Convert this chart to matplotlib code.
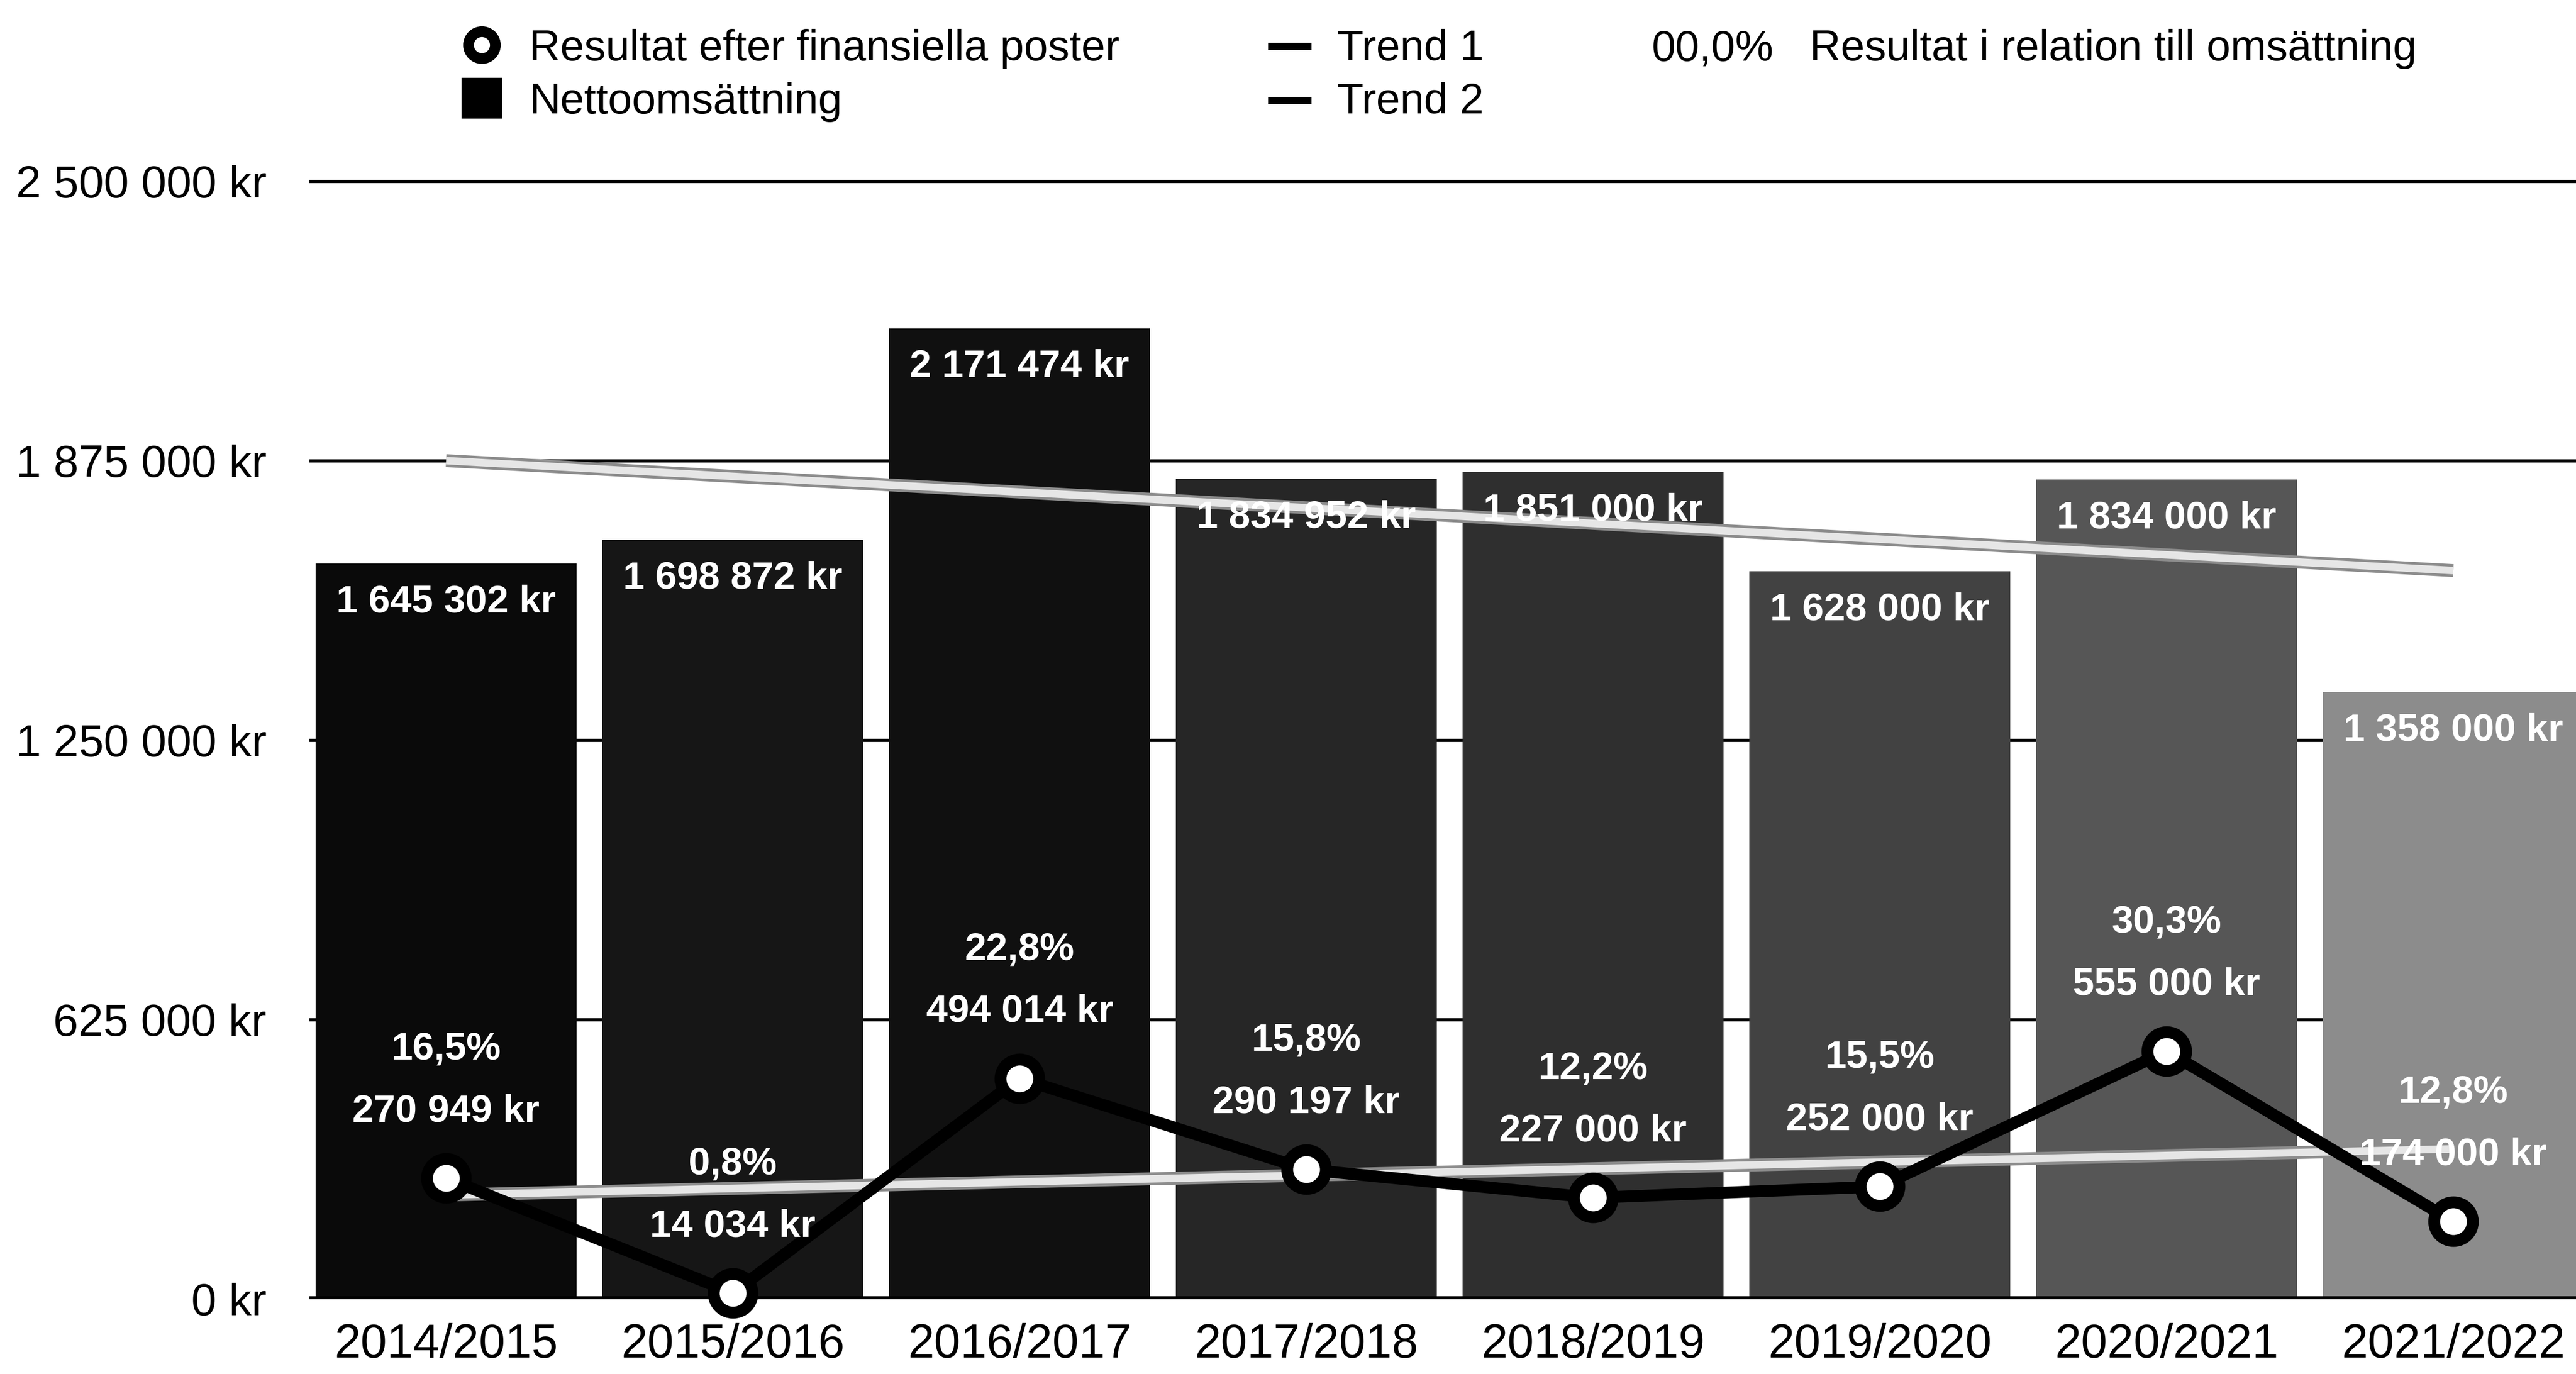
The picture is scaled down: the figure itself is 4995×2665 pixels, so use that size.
import numpy as np
import matplotlib.pyplot as plt
import matplotlib.patheffects as pe
from matplotlib.lines import Line2D

plt.rcParams['font.family'] = ['Liberation Sans', 'DejaVu Sans']

# Data
years = ['2014/2015', '2015/2016', '2016/2017', '2017/2018',
         '2018/2019', '2019/2020', '2020/2021', '2021/2022']
omsattning = [1645302, 1698872, 2171474, 1834952, 1851000, 1628000, 1834000, 1358000]
resultat = [270949, 14034, 494014, 290197, 227000, 252000, 555000, 174000]
andel = ['16,5%', '0,8%', '22,8%', '15,8%', '12,2%', '15,5%', '30,3%', '12,8%']
y_ticks = [0, 625000, 1250000, 1875000, 2500000]

# Gråskala för staplarna (mörk -> ljus)
bar_colors = ['#0a0a0a', '#161616', '#101010', '#262626',
              '#2f2f2f', '#424242', '#565656', '#8c8c8c']


def kr(v):
    return f'{v:,.0f}'.replace(',', ' ') + ' kr'


W, H = 4995, 2665
fig = plt.figure(figsize=(W / 300, H / 300), dpi=300)

# 0 kr ligger på y=2520 px, 2 500 000 kr på y=352 px
px_per_unit = (2520 - 352) / 2500000
y_top = 2600000
ax_top = 2520 - y_top * px_per_unit
ax = fig.add_axes([600 / W, 1 - 2520 / H, 1 - 600 / W, (2520 - ax_top) / H])

x = np.arange(len(years))
ax.bar(x, omsattning, width=0.91, color=bar_colors, zorder=2)

# Trendlinjer (linjär anpassning)
k1, m1 = np.polyfit(x, omsattning, 1)
k2, m2 = np.polyfit(x, resultat, 1)
xt = np.array([x[0], x[-1]])
trend_style = dict(color='#e6e6e6', lw=3.5, solid_capstyle='butt', zorder=3,
                   path_effects=[pe.Stroke(linewidth=6, foreground='#8c8c8c'), pe.Normal()])
ax.plot(xt, k1 * xt + m1, **trend_style)
ax.plot(xt, k2 * xt + m2, **trend_style)

# Resultat efter finansiella poster
ax.plot(x, resultat, color='black', lw=5.5, marker='o', ms=18, mfc='white',
        mec='black', mew=5.5, zorder=5, clip_on=False)

# Etiketter i staplarna
for xi, v in zip(x, omsattning):
    ax.annotate(kr(v), (xi, v), xytext=(0, -18), textcoords='offset points',
                ha='center', va='center', color='white', fontsize=18,
                fontweight='bold', zorder=6)

# Etiketter för resultat och andel
for xi, v, p in zip(x, resultat, andel):
    ax.annotate(kr(v), (xi, v), xytext=(0, 31), textcoords='offset points',
                ha='center', va='center', color='white', fontsize=18,
                fontweight='bold', zorder=6)
    ax.annotate(p, (xi, v), xytext=(0, 60), textcoords='offset points',
                ha='center', va='center', color='white', fontsize=18,
                fontweight='bold', zorder=6)

# Axlar
ax.set_xlim((600 - 865) / 556, (W - 865) / 556)
ax.set_ylim(0, y_top)
ax.set_yticks(y_ticks)
ax.set_yticklabels([kr(v) for v in y_ticks], fontsize=21)
ax.set_xticks(x)
ax.set_xticklabels(years, fontsize=22)
ax.tick_params(axis='y', length=0, pad=20)
ax.tick_params(axis='x', length=0, pad=11)
ax.yaxis.grid(True, color='black', lw=1.5)
ax.set_axisbelow(True)
ax.axhline(0, color='black', lw=2.8, zorder=4)
for s in ax.spines.values():
    s.set_visible(False)


# Förklaring (manuellt placerad)
def fx(px):
    return px / W


def fy(py):
    return 1 - py / H


fig.add_artist(Line2D([fx(934)], [fy(87)], marker='o', ms=12.5, mew=5, mfc='white',
                      mec='black', transform=fig.transFigure))
fig.add_artist(Line2D([fx(934)], [fy(190)], marker='s', ms=18, color='black',
                      lw=0, transform=fig.transFigure))
fig.add_artist(Line2D([fx(2466), fx(2536)], [fy(90), fy(90)], color='black', lw=3.4,
                      transform=fig.transFigure))
fig.add_artist(Line2D([fx(2466), fx(2536)], [fy(195), fy(195)], color='black', lw=3.4,
                      transform=fig.transFigure))
fig.text(fx(1026), fy(117), 'Resultat efter finansiella poster', fontsize=20, va='baseline')
fig.text(fx(1026), fy(220), 'Nettoomsättning', fontsize=20, va='baseline')
fig.text(fx(2593), fy(117), 'Trend 1', fontsize=20, va='baseline')
fig.text(fx(2593), fy(220), 'Trend 2', fontsize=20, va='baseline')
fig.text(fx(3203), fy(117), '00,0%', fontsize=20, va='baseline')
fig.text(fx(3509), fy(117), 'Resultat i relation till omsättning', fontsize=20, va='baseline')

fig.savefig('out.png', dpi=300)
